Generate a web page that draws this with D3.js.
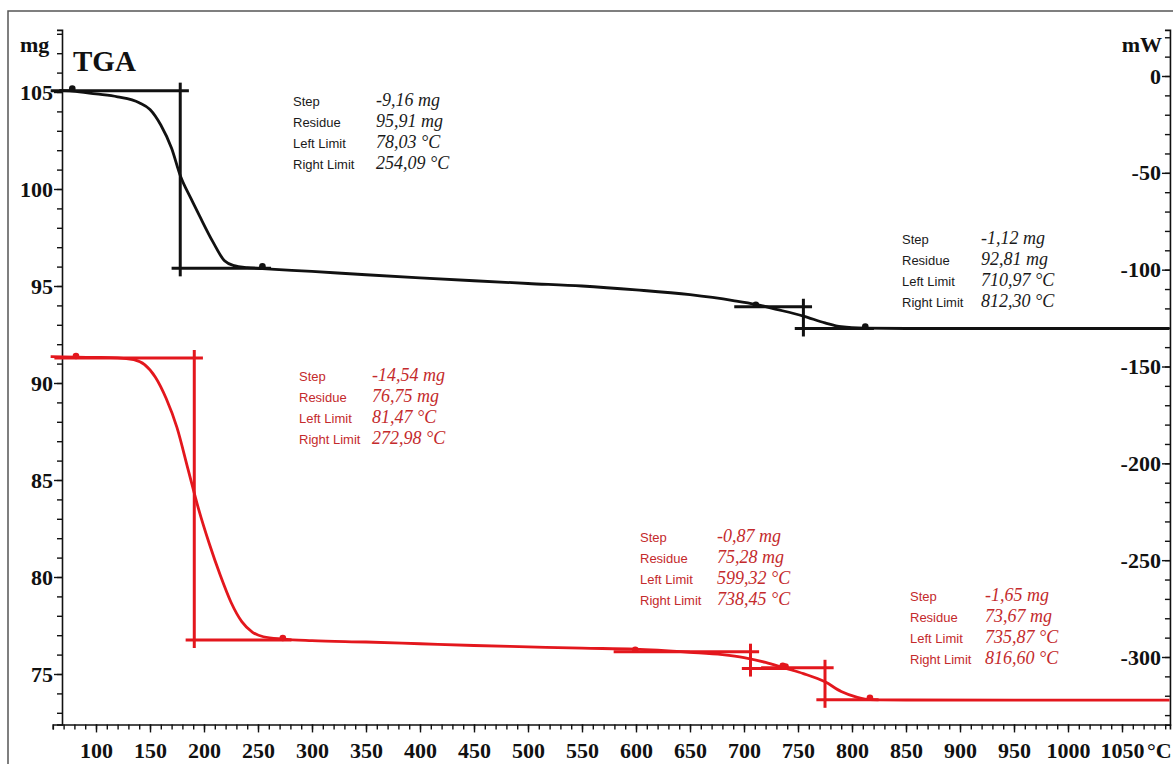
<!DOCTYPE html>
<html>
<head>
<meta charset="utf-8">
<script src="https://cdn.jsdelivr.net/npm/d3@7"></script>
<style>
  body { margin: 0; background: #fff; }
  svg { display: block; }
</style>
</head>
<body>
<div id="chart"></div>
<script>
// Sample 1 (black) TGA curve: temperature in °C, mass in mg
const blackTemp = [66, 78, 100, 120, 140, 150, 160, 170, 178, 188, 196, 208, 219, 228, 240, 254, 300, 350, 400, 450, 500, 550, 600, 650, 690, 711, 730, 755, 775, 790, 812, 850, 950, 1094];
const blackMass = [105.08, 105.05, 104.9, 104.75, 104.45, 104.1, 103.3, 102.1, 100.7, 99.5, 98.6, 97.3, 96.3, 96.05, 95.95, 95.9, 95.75, 95.58, 95.42, 95.27, 95.13, 95.0, 94.8, 94.55, 94.25, 94.05, 93.8, 93.45, 93.1, 92.9, 92.83, 92.81, 92.81, 92.81];

// Sample 2 (red) TGA curve
const redTemp = [58, 81.5, 100, 120, 135, 145, 155, 165, 175, 185, 195, 205, 215, 225, 235, 245, 255, 273, 300, 350, 400, 450, 500, 550, 599, 650, 680, 700, 720, 738, 755, 775, 790, 805, 817, 850, 950, 1094];
const redMass = [91.36, 91.33, 91.32, 91.3, 91.2, 90.95, 90.3, 89.2, 87.7, 85.6, 83.5, 81.7, 80.1, 78.7, 77.7, 77.15, 76.92, 76.8, 76.72, 76.65, 76.56, 76.47, 76.4, 76.33, 76.28, 76.12, 76.0, 75.85, 75.6, 75.3, 75.02, 74.6, 74.1, 73.8, 73.68, 73.66, 73.65, 73.65];

// Step evaluations: step (mg), residue (mg), left/right limits and midpoint (°C)
const blackSteps = [
  { step: -9.16, residue: 95.91, left: 78.03, right: 254.09, mid: 178 },
  { step: -1.12, residue: 92.81, left: 710.97, right: 812.30, mid: 755 },
];
const redSteps = [
  { step: -14.54, residue: 76.75, left: 81.47, right: 272.98, mid: 191 },
  { step: -0.87, residue: 75.28, left: 599.32, right: 738.45, mid: 706 },
  { step: -1.65, residue: 73.67, left: 735.87, right: 816.60, mid: 775 },
];

const tempTicks = d3.range(100, 1051, 50);
const massTicks = [75, 80, 85, 90, 95, 100, 105];
const powerTicks = [0, -50, -100, -150, -200, -250, -300];
const rowLabels = ["Step", "Residue", "Left Limit", "Right Limit"];

// where each result box sits on the page
const blackBoxes = [{ x: 293, y: 106, vx: 376 }, { x: 902, y: 244, vx: 981 }];
const redBoxes = [{ x: 299, y: 381, vx: 372 }, { x: 640, y: 542, vx: 717 }, { x: 910, y: 601, vx: 985 }];

const W = 1173, H = 764;
const BLACK = "#111", RED = "#e3171d", RED_TEXT = "#c42a2c";
const serif = "'Liberation Serif', 'Times New Roman', serif";
const sans = "'Liberation Sans', Arial, sans-serif";
const plain = d => String(d);

const svg = d3.select("#chart").append("svg").attr("width", W).attr("height", H);

// frame around the picture
svg.append("path")
  .attr("d", `M8,${H} V11 H${W}`)
  .attr("fill", "none").attr("stroke", "#555").attr("stroke-width", 1.5);

// scales
const x = d3.scaleLinear().domain([100, 1050]).range([96, 1122]);
const yMass = d3.scaleLinear().domain([75, 105]).range([674, 92]);
const yPow = d3.scaleLinear().domain([-300, 0]).range([657, 76]);

const xAxisScale = x.copy().domain([60, 1094.4]).range([x(60), x(1094.4)]);
const yMassAxis = yMass.copy().domain([72.4, 108.2]).range([yMass(72.4), yMass(108.2)]);
const yPowAxis = yPow.copy().domain([-335, 23.8]).range([yPow(-335), yPow(23.8)]);

const axisY = yMass(72.4), leftX = 62, rightX = x(1094.4);

function styleAxis(g, labels) {
  g.selectAll("line").attr("stroke", BLACK).attr("stroke-width", 1.4);
  g.select(".domain").attr("stroke", BLACK).attr("stroke-width", 1.6);
  g.selectAll("text")
    .attr("fill", BLACK)
    .style("font-family", serif)
    .style("font-weight", "bold")
    .style("font-size", "22px");
  if (!labels) g.selectAll("text").remove();
}

// bottom axis
svg.append("g").attr("transform", `translate(0,${axisY})`)
  .call(d3.axisBottom(xAxisScale).tickValues(d3.range(60, 1091, 10)).tickSize(5).tickFormat(""))
  .call(g => styleAxis(g, false));
svg.append("g").attr("transform", `translate(0,${axisY})`)
  .call(d3.axisBottom(xAxisScale).tickValues(tempTicks).tickSize(8).tickPadding(10).tickFormat(plain))
  .call(g => { styleAxis(g, true); g.select(".domain").remove(); });
svg.append("text").attr("x", 1147).attr("y", 758)
  .attr("fill", BLACK).style("font-family", serif).style("font-weight", "bold").style("font-size", "22px")
  .text("°C");

// left axis (mg)
svg.append("g").attr("transform", `translate(${leftX},0)`)
  .call(d3.axisLeft(yMassAxis).tickValues(d3.range(73, 109, 1)).tickSize(5).tickFormat(""))
  .call(g => styleAxis(g, false));
svg.append("g").attr("transform", `translate(${leftX},0)`)
  .call(d3.axisLeft(yMassAxis).tickValues(massTicks).tickSize(8).tickPadding(1).tickFormat(plain))
  .call(g => { styleAxis(g, true); g.select(".domain").remove(); });
svg.append("text").attr("x", 20).attr("y", 52)
  .attr("fill", BLACK).style("font-family", serif).style("font-weight", "bold").style("font-size", "22px")
  .text("mg");
svg.append("text").attr("x", 73).attr("y", 71)
  .attr("fill", BLACK).style("font-family", serif).style("font-weight", "bold").style("font-size", "29px")
  .text("TGA");

// right axis (mW), ticks and labels inside the plot
svg.append("g").attr("transform", `translate(${rightX},0)`)
  .call(d3.axisLeft(yPowAxis).tickValues(d3.range(-330, 21, 10)).tickSize(5).tickFormat(""))
  .call(g => styleAxis(g, false));
svg.append("g").attr("transform", `translate(${rightX},0)`)
  .call(d3.axisLeft(yPowAxis).tickValues(powerTicks).tickSize(8).tickPadding(1).tickFormat(plain))
  .call(g => { styleAxis(g, true); g.select(".domain").remove(); });
svg.append("text").attr("x", 1162).attr("y", 52).attr("text-anchor", "end")
  .attr("fill", BLACK).style("font-family", serif).style("font-weight", "bold").style("font-size", "22px")
  .text("mW");

// curves
const line = d3.line()
  .x(d => x(d[0]))
  .y(d => yMass(d[1]))
  .curve(d3.curveMonotoneX);

function drawSample(temp, mass, steps, boxes, color, textColor) {
  const g = svg.append("g");
  g.append("path")
    .datum(temp.map((t, i) => [t, mass[i]]))
    .attr("d", line)
    .attr("fill", "none")
    .attr("stroke", color)
    .attr("stroke-width", 2.8);

  steps.forEach(s => {
    const top = s.residue - s.step;
    const seg = (x1, y1, x2, y2) => g.append("line")
      .attr("x1", x1).attr("y1", y1).attr("x2", x2).attr("y2", y2)
      .attr("stroke", color).attr("stroke-width", 3);
    seg(x(s.left - 20), yMass(top), x(s.mid + 8), yMass(top));
    seg(x(s.mid - 8), yMass(s.residue), x(s.right + 8), yMass(s.residue));
    seg(x(s.mid), yMass(top) - 8, x(s.mid), yMass(s.residue) + 8);
    [[s.left, top], [s.right, s.residue]].forEach(p => {
      g.append("circle")
        .attr("cx", x(p[0])).attr("cy", yMass(p[1]) - 2).attr("r", 3.3)
        .attr("fill", color);
    });
  });

  steps.forEach((s, i) => {
    const b = boxes[i];
    const values = [
      s.step.toFixed(2).replace(".", ",") + " mg",
      s.residue.toFixed(2).replace(".", ",") + " mg",
      s.left.toFixed(2).replace(".", ",") + " °C",
      s.right.toFixed(2).replace(".", ",") + " °C",
    ];
    rowLabels.forEach((lab, r) => {
      g.append("text").attr("x", b.x).attr("y", b.y + r * 21)
        .attr("fill", textColor).style("font-family", sans).style("font-size", "13px")
        .text(lab);
      g.append("text").attr("x", b.vx).attr("y", b.y + r * 21)
        .attr("fill", textColor).style("font-family", serif).style("font-style", "italic").style("font-size", "18px")
        .text(values[r]);
    });
  });
}

drawSample(blackTemp, blackMass, blackSteps, blackBoxes, BLACK, "#1a1a1a");
drawSample(redTemp, redMass, redSteps, redBoxes, RED, RED_TEXT);
</script>
</body>
</html>
